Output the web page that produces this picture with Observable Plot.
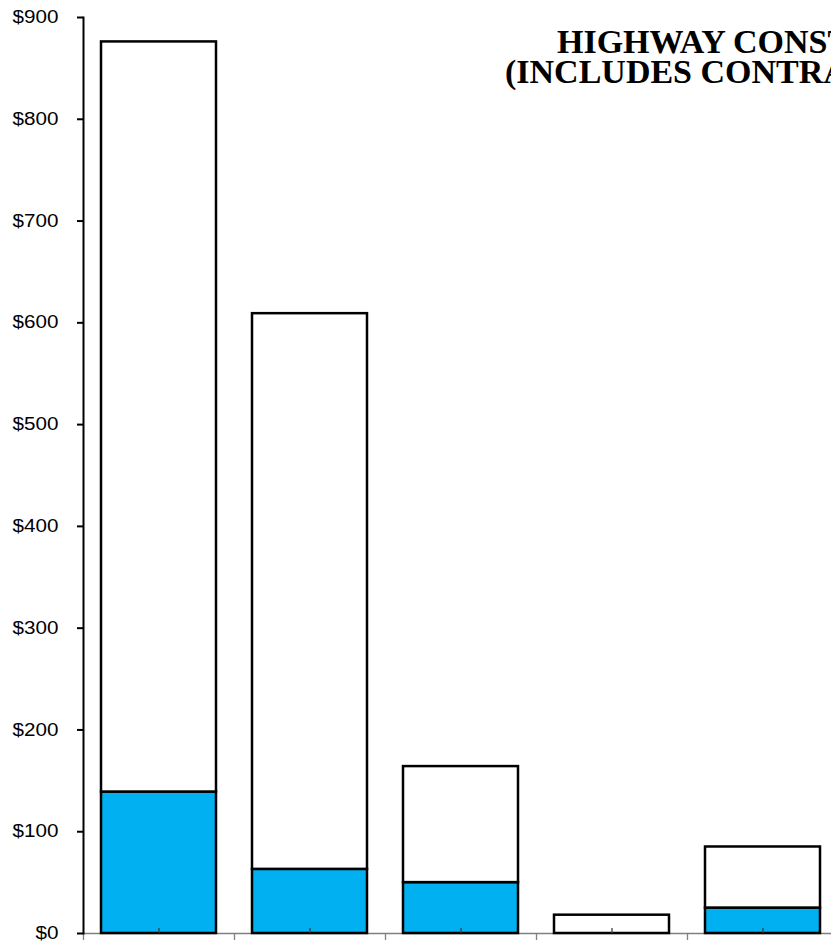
<!DOCTYPE html>
<html>
<head>
<meta charset="utf-8">
<script src="https://cdn.jsdelivr.net/npm/d3@7"></script>
<script src="https://cdn.jsdelivr.net/npm/@observablehq/plot@0.6"></script>
<style>
  html, body { margin: 0; padding: 0; background: #fff; overflow: hidden; }
  #chart { width: 831px; height: 944px; overflow: hidden; position: relative; }
  #chart svg { display: block; max-width: none !important; height: 944px !important; }
</style>
</head>
<body>
<div id="chart"></div>
<script>
// Five spending categories, each split into a blue lower portion and a white remainder.
const categories = ["Cat 1", "Cat 2", "Cat 3", "Cat 4", "Cat 5"];
const totals = [876, 609, 164, 18, 85];        // full bar height, $
const bluePortion = [139, 63, 50, 0, 25];      // lower (blue) segment, $
const yTicks = [0, 100, 200, 300, 400, 500, 600, 700, 800, 900];
const titleLines = ["HIGHWAY CONSTRUCTION", "(INCLUDES CONTRACTS)"];

const rows = categories.map((category, i) => ({
  category,
  index: i,
  blue: bluePortion[i],
  total: totals[i]
}));

const boundaries = d3.range(0, categories.length + 1);
const centers = d3.range(categories.length).map(i => i + 0.5);

const barStyle = { stroke: "#000", strokeWidth: 2.5, insetLeft: 18, insetRight: 18 };

const plot = Plot.plot({
  width: 860,
  height: 944,
  marginLeft: 83,
  marginRight: 22,
  marginTop: 17,
  marginBottom: 11,
  style: {
    background: "#fff",
    color: "#000",
    fontFamily: "'Liberation Sans', Arial, sans-serif",
    fontSize: "17.5px",
    overflow: "visible"
  },
  x: { type: "linear", domain: [0, categories.length] },
  y: { domain: [0, 900] },
  marks: [
    // category axis baseline
    Plot.ruleY([0], { stroke: "#808080", strokeWidth: 1.4 }),
    // blue lower segment
    Plot.rect(rows, {
      x1: "index", x2: d => d.index + 1,
      y1: 0, y2: "blue",
      fill: "#00B0F0", ...barStyle
    }),
    // white upper segment
    Plot.rect(rows, {
      x1: "index", x2: d => d.index + 1,
      y1: "blue", y2: "total",
      fill: "#fff", ...barStyle
    }),
    // tick marks between categories (pointing down)
    Plot.axisX({
      anchor: "bottom",
      ticks: boundaries,
      tickSize: 7,
      tickFormat: () => "",
      stroke: "#808080",
      strokeWidth: 1.3,
      label: null
    }),
    // small marks at each category centre (pointing up)
    Plot.axisX({
      anchor: "bottom",
      ticks: centers,
      tickSize: -5,
      tickFormat: () => "",
      stroke: "#404040",
      strokeWidth: 1.3,
      label: null
    }),
    // value axis
    Plot.frame({ anchor: "left", stroke: "#000", strokeWidth: 2 }),
    Plot.axisY({
      anchor: "left",
      ticks: yTicks,
      tickFormat: d => "$" + d,
      tickSize: 6,
      tickPadding: 19,
      strokeWidth: 2,
      label: null
    })
  ]
});

// Two-line bold serif title in the upper right of the plot area
const svg = d3.select(plot);
const title = svg.append("g")
  .attr("font-family", "'Liberation Serif', 'Times New Roman', serif")
  .attr("font-weight", "bold")
  .attr("font-size", 34)
  .attr("text-anchor", "start")
  .attr("fill", "#000");
title.append("text").attr("x", 557).attr("y", 53).text(titleLines[0]);
title.append("text").attr("x", 505).attr("y", 83).text(titleLines[1]);

document.getElementById("chart").appendChild(plot);

// Value-axis labels use a wide (horizontally stretched) face
svg.selectAll("[aria-label='y-axis tick label'] text").each(function () {
  const w = this.getComputedTextLength();
  this.setAttribute("lengthAdjust", "spacingAndGlyphs");
  this.setAttribute("textLength", (w * 1.18).toFixed(1));
});
</script>
</body>
</html>
